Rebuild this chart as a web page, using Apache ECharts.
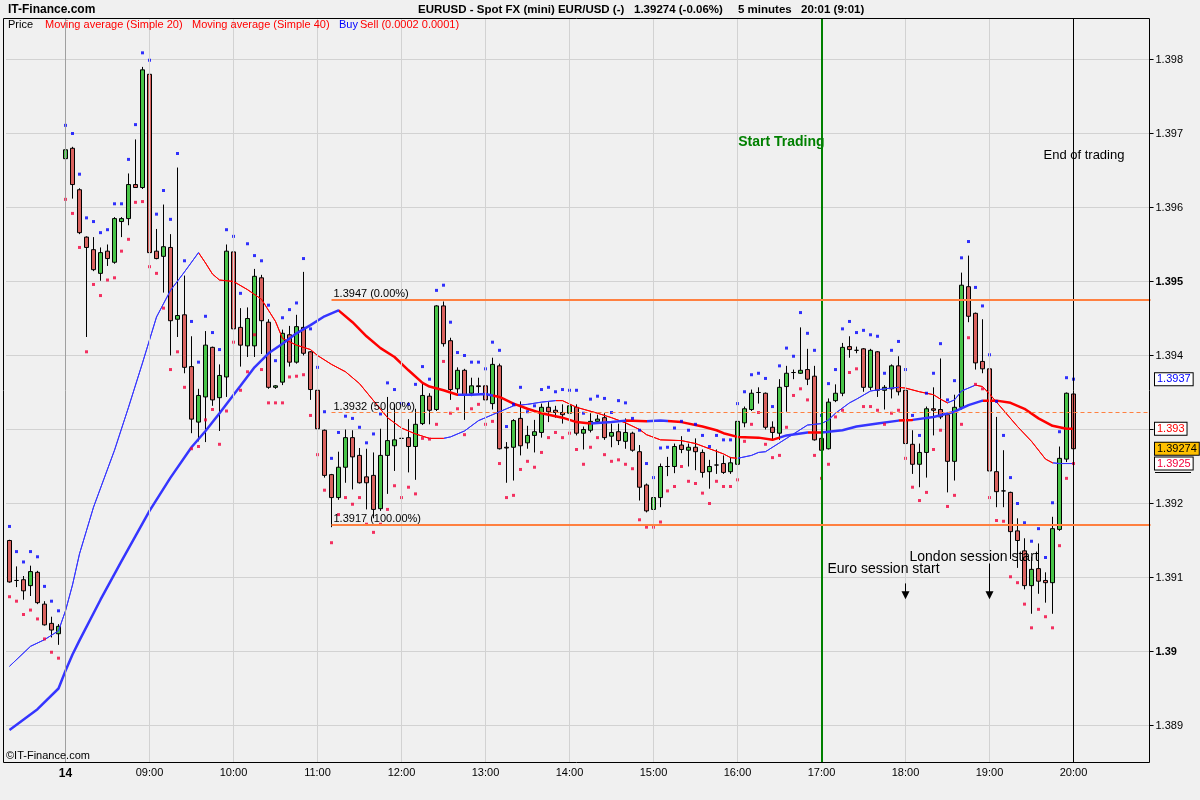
<!DOCTYPE html>
<html><head><meta charset="utf-8">
<script src="https://cdn.jsdelivr.net/npm/echarts@6/dist/echarts.min.js"></script>
<style>html,body{margin:0;padding:0;background:#f0f0f0;}#c{width:1200px;height:800px;}</style>
</head><body><div id="c"></div>
<script>
// All price values below are in pips (0.0001) above 1.39000
const BASE = 1.39, PIP = 0.0001;
const toPrice = p => +(BASE + p * PIP).toFixed(5);

// candles [open, high, low, close] in pips, index 0..152 (5-minute bars)
const candlePips = [
[15.0,15.1,9.3,9.4],[9.6,11.5,8.7,9.6],[9.7,10.2,7.0,8.2],[8.9,11.6,7.5,10.8],[10.7,10.9,6.4,6.6],
[6.4,6.8,3.5,3.6],[3.8,4.7,1.9,2.9],[2.4,3.7,0.9,3.4],[66.6,68.9,62.9,67.8],[68.0,68.2,61.2,63.1],
[62.4,62.6,56.4,56.6],[56.0,56.1,42.5,54.6],[54.3,56.0,51.4,51.6],[51.1,54.6,50.1,53.9],[54.1,55.0,52.1,53.1],
[52.6,58.7,52.4,58.5],[58.1,58.7,56.0,58.5],[58.5,64.6,57.6,63.1],[63.1,69.2,62.7,62.7],[62.7,79.0,62.5,78.6],
[78.0,78.1,53.8,53.9],[54.1,57.1,53.0,53.1],[53.4,60.4,48.5,54.7],[54.6,56.4,40.0,44.7],[44.9,65.4,42.5,45.4],
[45.5,50.8,37.6,38.4],[38.5,42.6,29.5,31.4],[31.0,35.5,28.4,34.6],[34.4,43.3,28.3,41.4],[41.1,41.2,33.2,34.0],
[34.3,38.8,29.8,37.3],[37.1,55.0,34.4,54.1],[54.0,54.1,43.4,43.6],[43.8,46.4,38.5,41.4],[41.3,46.5,39.8,45.0],
[41.3,51.7,39.8,50.7],[50.5,50.9,40.2,44.7],[44.5,44.9,35.5,35.7],[35.7,36.0,35.5,35.9],[36.4,43.5,36.0,43.0],
[42.8,44.0,38.5,39.1],[39.1,45.5,38.9,43.9],[43.8,51.3,40.0,40.3],[40.5,40.6,34.0,35.4],[35.3,36.4,28.6,30.1],
[29.9,30.0,23.5,23.8],[23.9,24.0,16.8,20.8],[20.8,27.0,20.5,24.9],[24.9,30.0,22.8,28.9],[28.9,29.9,21.9,26.3],
[26.5,27.5,22.7,22.8],[23.6,27.4,19.2,22.8],[23.8,26.9,18.0,19.2],[19.3,30.1,19.0,26.5],[26.5,34.4,21.3,28.5],
[27.8,33.4,24.4,28.6],[28.8,31.5,22.8,28.8],[28.9,31.4,24.2,27.7],[27.7,32.8,23.2,30.7],[30.8,36.4,30.6,34.6],
[34.5,34.9,30.7,32.6],[32.7,46.8,32.5,46.7],[46.7,47.3,41.2,41.6],[42.0,42.4,34.0,35.4],[35.5,38.4,34.9,38.0],
[38.0,38.2,31.3,34.6],[34.9,37.0,34.5,35.9],[35.9,37.0,34.9,35.8],[35.9,36.2,32.7,34.0],[33.5,39.7,32.7,38.8],
[38.6,38.9,27.3,27.4],[27.6,28.3,22.8,27.5],[27.6,31.4,23.1,31.2],[31.5,33.8,26.5,27.8],[28.2,30.5,27.4,29.2],
[29.2,31.3,26.9,29.7],[29.6,33.5,28.9,33.0],[33.0,33.7,31.0,32.4],[32.6,33.2,31.6,32.3],[32.3,33.4,30.8,32.0],
[32.2,33.5,31.5,33.2],[33.0,33.4,29.2,29.5],[29.5,30.4,27.3,30.0],[29.9,32.2,29.6,31.1],[31.1,32.0,30.9,31.4],
[31.6,32.2,28.6,28.9],[29.1,30.8,27.6,29.6],[29.7,30.8,27.9,28.5],[28.4,31.5,27.4,29.6],[29.5,29.7,27.0,27.2],
[27.0,27.9,20.4,22.2],[22.5,22.7,18.8,19.0],[19.2,21.8,18.5,20.8],[20.8,25.4,19.5,25.0],[25.0,26.3,23.7,25.0],
[25.0,28.1,24.1,27.7],[27.9,29.1,26.8,27.3],[27.2,28.1,25.0,27.6],[27.6,28.8,24.5,27.0],[26.9,27.3,23.5,24.2],
[24.3,25.9,22.0,25.0],[25.2,27.3,24.0,25.2],[25.4,26.5,24.0,24.2],[24.3,26.3,24.0,25.5],[25.3,31.5,25.0,31.1],
[30.9,33.1,30.3,32.8],[32.7,35.4,32.5,34.9],[35.0,35.7,33.5,35.0],[34.9,35.0,30.0,30.3],[30.3,31.1,28.6,29.6],
[29.5,36.8,28.6,35.7],[35.8,38.6,32.4,37.6],[37.7,38.1,36.8,37.7],[37.6,43.8,37.5,38.0],[38.1,40.9,36.0,36.8],
[37.2,38.6,28.5,28.6],[28.8,29.5,26.0,27.2],[27.4,34.2,27.3,33.7],[33.9,36.1,33.7,34.9],[34.9,41.7,34.5,41.1],
[41.2,42.6,39.7,40.8],[40.7,41.2,40.3,40.7],[40.9,41.0,35.1,35.7],[35.7,40.9,35.3,40.7],[40.5,40.6,34.4,35.3],
[35.3,36.0,32.7,35.7],[35.5,38.8,34.2,38.6],[38.6,39.9,34.6,35.1],[35.3,36.1,28.0,28.1],[28.0,29.9,24.0,25.3],
[25.3,28.1,22.2,26.9],[26.9,33.1,23.5,32.8],[32.8,35.7,29.2,32.6],[32.7,39.6,31.4,31.7],[32.0,32.2,21.5,25.7],
[25.7,34.7,23.1,33.0],[33.0,51.2,32.7,49.5],[49.3,53.5,44.5,45.3],[45.7,45.8,38.1,39.0],[39.2,44.9,37.6,38.2],
[38.2,38.3,22.8,24.4],[24.3,31.7,19.5,21.6],[21.7,27.2,19.5,21.7],[21.5,21.6,12.5,16.2],[16.3,18.0,11.3,15.0],
[13.6,15.3,8.4,8.9],[8.9,12.8,5.1,11.1],[11.2,14.6,7.8,9.5],[9.6,10.7,6.6,9.3],[9.3,18.2,5.1,16.6],
[16.5,27.7,16.3,26.1],[26.0,35.0,25.6,34.9],[34.8,34.9,27.3,27.4]
];

// Buy/Sell indicator dots (pips)
const buyDots = [
16.9,13.5,12.1,13.5,12.8,8.8,6.8,5.5,71.1,70.0,
64.5,58.6,58.1,56.6,57.0,60.5,60.5,66.5,71.2,80.9,
79.9,59.1,62.3,58.4,67.3,52.8,44.6,39.1,45.3,43.1,
40.8,57.0,56.1,48.4,55.1,53.5,52.8,46.8,39.3,45.1,
46.2,47.1,53.1,43.6,38.4,32.4,26.1,29.6,31.8,31.5,
30.3,28.2,29.4,32.1,36.3,35.4,33.5,33.4,36.1,38.5,
36.8,48.8,49.5,44.5,40.4,40.0,39.1,39.1,38.2,41.8,
40.7,30.4,33.4,35.7,32.4,33.2,35.4,35.7,35.1,35.4,
35.3,35.3,32.2,34.1,34.5,34.2,32.3,33.9,33.6,31.5,
29.9,25.4,23.5,27.5,27.6,30.2,31.1,29.9,30.7,29.2,
27.7,29.2,28.6,28.6,33.5,35.1,37.4,37.6,36.9,33.1,
38.6,41.0,39.9,45.8,43.0,40.7,31.9,36.2,38.1,43.6,
44.6,43.1,43.4,42.8,42.6,37.6,40.7,41.9,38.1,31.9,
29.2,34.9,37.6,41.6,34.0,36.6,53.2,55.4,49.2,46.7,
40.1,33.8,29.2,23.5,20.0,17.4,14.9,16.6,12.7,20.1,
29.7,37.0,36.8];
const sellDots = [
7.4,6.8,5.0,5.6,4.4,1.7,-0.1,-0.9,61.1,59.2,
54.6,40.5,49.6,48.1,50.2,50.5,54.1,55.7,60.7,60.8,
52.0,51.1,46.4,38.1,40.5,35.7,27.4,27.7,31.3,32.7,
28.0,32.5,41.8,35.3,37.8,42.8,38.1,33.6,33.6,33.6,
37.1,37.2,37.4,31.9,26.6,21.8,14.7,18.5,20.8,19.9,
20.8,17.2,16.1,17.2,19.2,22.4,20.8,22.2,21.3,28.8,
28.7,30.7,39.2,32.2,32.8,29.3,32.8,33.4,30.7,31.1,
25.4,20.8,21.1,24.6,25.7,24.9,26.9,28.9,29.6,28.9,
29.5,27.3,25.3,27.6,28.9,26.6,25.7,25.9,25.3,24.7,
17.8,16.8,16.8,17.5,21.7,22.3,25.0,23.0,22.7,21.4,
20.0,23.0,22.3,22.3,23.2,28.4,30.7,32.3,28.0,26.2,
26.5,30.3,34.6,35.5,34.0,26.5,23.4,25.3,31.7,32.6,
37.7,38.2,33.1,33.1,32.6,30.7,32.2,32.6,26.1,22.2,
20.4,21.5,27.3,29.9,19.6,21.1,30.7,42.4,36.1,35.5,
20.8,17.7,17.6,10.1,9.3,6.4,3.2,5.7,4.7,3.2,
14.3,23.4,25.4];

// Moving averages: [bar index, pips]
const sma20 = [[0,-2.0],[3,0.7],[5,1.6],[7,2.8],[8,5.5],[9,9.0],[10,13.2],[12,19.5],[15,27.2],[17,33.0],[19,39.0],[21,45.2],[23,48.8],[25,51.3],[27,53.9],[28,52.5],[29,51.0],[30,50.2],[32,50.0],[34,48.9],[36,47.6],[38,44.6],[39,42.3],[41,41.4],[43,40.8],[44,40.0],[46,38.8],[48,37.8],[50,36.2],[52,33.9],[54,31.6],[56,30.2],[58,29.4],[60,28.8],[62,28.8],[63,29.0],[65,29.8],[67,31.2],[69,32.0],[71,32.8],[72,33.2],[74,33.4],[76,33.7],[78,33.9],[79,33.9],[81,33.0],[84,32.2],[86,31.6],[88,30.9],[90,30.0],[91,29.3],[93,28.6],[96,28.5],[98,28.1],[100,27.4],[102,26.7],[103,26.2],[104,26.1],[106,26.5],[107,26.9],[108,27.0],[110,28.2],[112,29.4],[114,30.6],[116,30.8],[117,31.3],[118,32.2],[120,33.6],[121,34.1],[123,35.2],[125,35.5],[127,35.7],[128,35.6],[130,35.1],[132,34.7],[133,34.1],[134,33.6],[135,34.0],[136,35.2],[138,36.0],[139,35.8],[140,34.8],[142,32.6],[144,30.4],[146,28.4],[148,26.0],[149,25.5],[150,25.4],[152,25.4]];
const sma40 = [[0,-10.6],[4,-7.8],[7,-5.0],[8,-2.6],[9,-0.4],[10,1.5],[13,7.0],[16,12.2],[20,19.0],[23,23.5],[26,27.6],[28,29.8],[30,32.2],[33,35.9],[35,38.4],[37,40.3],[39,41.6],[41,43.0],[43,44.1],[45,45.3],[47,46.1],[49,44.5],[51,42.6],[53,41.0],[55,39.8],[57,38.0],[59,36.3],[60,35.8],[62,35.3],[64,34.7],[66,34.7],[68,34.8],[70,34.4],[72,33.5],[74,32.8],[76,32.2],[79,31.6],[81,31.0],[83,30.8],[86,31.0],[88,31.2],[91,31.1],[93,31.2],[96,31.0],[99,30.4],[101,29.9],[102,29.5],[104,29.0],[107,28.9],[109,28.6],[111,29.2],[114,29.6],[116,29.6],[119,29.9],[121,30.4],[124,30.8],[127,31.2],[129,31.3],[132,31.7],[135,32.4],[137,33.3],[139,33.9],[141,33.9],[143,33.6],[145,32.8],[147,31.5],[149,30.5],[151,30.1],[152,30.1]];
// segments where each average is drawn rising (blue) or falling (red): start bar of each segment
const sma20Segments = [[0,'up'],[27,'down'],[62,'up'],[78,'down'],[104,'up'],[127,'down'],[134,'up'],[138,'down'],[149,'up']];
const sma40Segments = [[0,'up'],[47,'down'],[64,'up'],[69,'down'],[83,'up'],[88,'down'],[91,'up'],[94,'down'],[110,'up'],[114,'down'],[116,'up'],[127,'down'],[129,'up'],[139,'down']];

// axis ticks
const yTicks = [1.389,1.390,1.391,1.392,1.393,1.394,1.395,1.396,1.397,1.398];
const hourTicks = [[8,'14'],[20,'09:00'],[32,'10:00'],[44,'11:00'],[56,'12:00'],[68,'13:00'],[80,'14:00'],[92,'15:00'],[104,'16:00'],[116,'17:00'],[128,'18:00'],[140,'19:00'],[152,'20:00']];
const N_SLOTS = 164;
const fibStart = 46, fibHigh = 1.39475, fibLow = 1.39171;
const fibLabels = ['1.3947 (0.00%)','1.3932 (50.00%)','1.3917 (100.00%)'];
const startTradingIdx = 116, endTradingIdx = 152, euroIdx = 128, londonIdx = 140;

const FONT = '"Liberation Sans", Arial, sans-serif';
const BLUE = '#3535ff', RED = '#ff0000', ORANGE = '#ff8040';

const categories = [];
for (let i = 0; i < N_SLOTS; i++) {
  const m = (i < 8) ? (21 * 60 + 20 + i * 5) : (8 * 60 + (i - 8) * 5);
  const hh = String(Math.floor(m / 60) % 24).padStart(2, '0'), mm = String(m % 60).padStart(2, '0');
  categories.push(hh + ':' + mm);
}
const tickIdx = new Set(hourTicks.map(t => t[0]));
const tickLabel = {}; hourTicks.forEach(t => tickLabel[t[0]] = t[1]);

const candleData = candlePips.map(r => [toPrice(r[0]), toPrice(r[3]), toPrice(r[2]), toPrice(r[1])]);
const piecesFrom = segs => segs.map((s, k) => {
  const p = { color: s[1] === 'up' ? BLUE : RED };
  if (k > 0) p.gte = s[0];
  if (k < segs.length - 1) p.lt = segs[k + 1][0];
  return p;
});
const fibMid = +((fibHigh + fibLow) / 2).toFixed(5);
const fibValues = [fibHigh, fibMid, fibLow];

const option = {
  animation: false,
  backgroundColor: '#f0f0f0',
  textStyle: { fontFamily: FONT },
  grid: { left: 6, right: 46, top: 18.5, bottom: 37.5, show: false },
  xAxis: {
    type: 'category', data: categories, boundaryGap: true,
    axisLine: { show: false }, axisTick: { show: false }, splitLine: { show: false },
    axisLabel: {
      interval: (i) => tickIdx.has(i), margin: 5, color: '#000', fontSize: 11, fontFamily: FONT,
      formatter: (v, i) => i === 8 ? '{d|14}' : (tickLabel[i] || v),
      rich: { d: { fontWeight: 'bold', fontSize: 12, fontFamily: FONT, color: '#000' } }
    }
  },
  yAxis: {
    type: 'value', position: 'right', min: 1.3885, max: 1.398554, offset: -4.5, splitNumber: 10,
    axisLine: { show: false },
    axisTick: { show: true, length: 4, lineStyle: { color: '#000' }, customValues: yTicks },
    axisLabel: {
      customValues: yTicks, margin: 6, color: '#000', fontSize: 11, fontFamily: FONT,
      formatter: v => { const s = String(+v.toFixed(3)); return Math.round(v * 1000) % 5 === 0 ? '{b|' + s + '}' : s; },
      rich: { b: { fontWeight: 'bold', fontSize: 11, fontFamily: FONT, color: '#000' } }
    },
    splitLine: { show: true, lineStyle: { color: '#d2d2d2', width: 1 } }
  },
  visualMap: [
    { type: 'piecewise', show: false, seriesIndex: 2, dimension: 0, pieces: piecesFrom(sma20Segments) },
    { type: 'piecewise', show: false, seriesIndex: 3, dimension: 0, pieces: piecesFrom(sma40Segments) }
  ],
  series: [
    { type: 'scatter', data: [], z: 1, silent: true,
      markLine: { silent: true, symbol: ['none', 'none'], label: { show: false }, animation: false,
        data: hourTicks.filter(t => t[0] !== startTradingIdx && t[0] !== endTradingIdx)
          .map(t => ({ xAxis: t[0], lineStyle: { color: t[0] === 8 ? '#a0a0a0' : '#d2d2d2', width: 1, type: 'solid' } })) } },
    { type: 'candlestick', data: candleData, barWidth: 5, z: 2, silent: true,
      itemStyle: { color: '#48c448', color0: '#d9625f', borderColor: '#000', borderColor0: '#000', borderColorDoji: '#000', borderWidth: 1 } },
    { type: 'line', data: sma20.map(d => [d[0], toPrice(d[1])]), showSymbol: false, symbol: 'none', z: 3, silent: true,
      lineStyle: { width: 1 } },
    { type: 'line', data: sma40.map(d => [d[0], toPrice(d[1])]), showSymbol: false, symbol: 'none', z: 3, silent: true,
      lineStyle: { width: 2.5 } },
    { type: 'scatter', data: buyDots.map((p, i) => [i, toPrice(p)]), symbol: 'rect', symbolSize: 3, z: 4, silent: true,
      itemStyle: { color: '#0000ff' } },
    { type: 'scatter', data: sellDots.map((p, i) => [i, toPrice(p)]), symbol: 'rect', symbolSize: 3, z: 4, silent: true,
      itemStyle: { color: '#f4003c' } },
    { type: 'scatter', data: [], z: 5, silent: true,
      markLine: { silent: true, symbol: ['none', 'none'], label: { show: false }, animation: false,
        data: [
          { xAxis: startTradingIdx, lineStyle: { color: '#008000', width: 2, type: 'solid' } },
          { xAxis: endTradingIdx, lineStyle: { color: '#000', width: 1, type: 'solid' } },
          [{ coord: [fibStart, fibValues[0]], lineStyle: { color: ORANGE, width: 2, type: 'solid' } }, { coord: [N_SLOTS - 1, fibValues[0]] }],
          [{ coord: [fibStart, fibValues[1]], lineStyle: { color: ORANGE, width: 1, type: [4, 3] } }, { coord: [N_SLOTS - 1, fibValues[1]] }],
          [{ coord: [fibStart, fibValues[2]], lineStyle: { color: ORANGE, width: 2, type: 'solid' } }, { coord: [N_SLOTS - 1, fibValues[2]] }],
          [{ coord: [euroIdx, 1.39092], symbol: 'none', lineStyle: { color: '#000', width: 1, type: 'solid' } }, { coord: [euroIdx, 1.39076], symbol: 'triangle', symbolSize: 8 }],
          [{ coord: [londonIdx, 1.39119], symbol: 'none', lineStyle: { color: '#000', width: 1, type: 'solid' } }, { coord: [londonIdx, 1.39076], symbol: 'triangle', symbolSize: 8 }]
        ] } }
  ]
};

const chart = echarts.init(document.getElementById('c'));
chart.setOption(option);
const P = (i, v) => chart.convertToPixel({ xAxisIndex: 0, yAxisIndex: 0 }, [i, v]);
const T = (x, y, text, st) => ({ type: 'text', x: x, y: y, silent: true, z: 100,
  style: Object.assign({ text: text, fill: '#000', font: '11px ' + FONT, align: 'left', verticalAlign: 'middle' }, st || {}) });

const g = [];
// frame
g.push({ type: 'rect', silent: true, z: 90, shape: { x: 3.5, y: 18.5, width: 1146, height: 744 }, style: { fill: 'none', stroke: '#000', lineWidth: 1 } });
// header
g.push(T(8, 10, 'IT-Finance.com', { font: 'bold 12px ' + FONT }));
g.push(T(418, 10, 'EURUSD - Spot FX (mini) EUR/USD (-)', { font: 'bold 11.5px ' + FONT }));
g.push(T(634, 10, '1.39274 (-0.06%)', { font: 'bold 11.5px ' + FONT }));
g.push(T(738, 10, '5 minutes', { font: 'bold 11.5px ' + FONT }));
g.push(T(801, 10, '20:01 (9:01)', { font: 'bold 11.5px ' + FONT }));
// legend row
g.push(T(8, 25, 'Price'));
g.push(T(45, 25, 'Moving average (Simple 20)', { fill: RED }));
g.push(T(192, 25, 'Moving average (Simple 40)', { fill: RED }));
g.push(T(339, 25, 'Buy', { fill: '#0000ff' }));
g.push(T(360, 25, 'Sell (0.0002 0.0001)', { fill: RED }));
g.push(T(6, 756, '\u00a9IT-Finance.com'));
// fib labels
fibValues.forEach((v, k) => { const p = P(fibStart, v); g.push(T(p[0] + 2, p[1] - 6, fibLabels[k])); });
// annotations
let p = P(startTradingIdx, 1.39688); g.push(T(p[0] + 3, p[1], 'Start Trading', { font: 'bold 14px ' + FONT, fill: '#008000', align: 'right' }));
p = P(endTradingIdx, 1.39671); g.push(T(p[0] - 30, p[1], 'End of trading', { font: '13px ' + FONT }));
p = P(startTradingIdx, 1.39111); g.push(T(p[0] + 6, p[1], 'Euro session start', { font: '14px ' + FONT }));
p = P(euroIdx, 1.39128); g.push(T(p[0] + 4, p[1], 'London session start', { font: '14px ' + FONT }));
// right value boxes
const boxes = [[1.39368, '1.3937', '#0000ff', '#ffffff'], [1.39301, '1.393', '#ff0000', '#ffffff'], [1.39274, '1.39274', '#000', '#ffc000'], [1.39254, '1.3925', '#f4003c', '#ffffff']];
boxes.forEach(b => {
  const y = P(0, b[0])[1];
  g.push(T(1155, y, b[1], { fill: b[2], backgroundColor: b[3], borderColor: '#000', borderWidth: 1, padding: [1, 2, 0, 2] }));
});
const yl = P(0, 1.39254)[1];
g.push({ type: 'line', silent: true, z: 100, shape: { x1: 1155, y1: Math.round(yl) + 8.5, x2: 1191, y2: Math.round(yl) + 8.5 }, style: { stroke: '#000', lineWidth: 1 } });
chart.setOption({ graphic: g });
</script></body></html>
